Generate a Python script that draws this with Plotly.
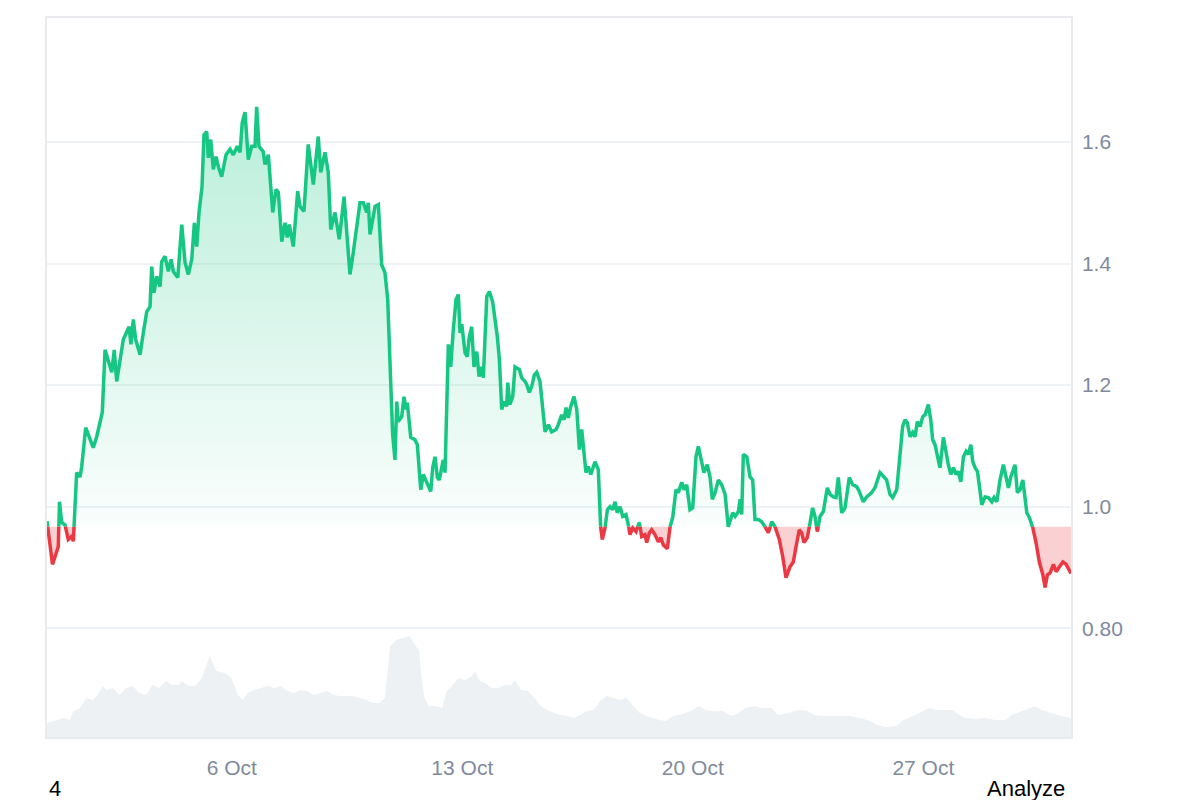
import numpy as np
import pandas as pd
import plotly.graph_objects as go

# ---------------- data ----------------
START = "2024-09-30 09:20"   # first sample time
BASE = 0.967                 # reference (opening) price

# hours since START for each price sample
hours = [
    0, 4.0, 8.2, 9.1, 10.7, 13.1, 15.5, 18.0, 19.2, 21.6,
    24.1, 25.3, 28.2, 31.3, 33.7, 36.2, 38.6, 40.3, 42.3, 45.9,
    47.2, 49.0, 50.8, 55.6, 58.1, 59.8, 61.2, 62.9, 64.6, 67.8,
    70.2, 72.7, 75.1, 76.3, 78.0, 80.0, 82.4, 83.6, 86.0, 88.4,
    90.4, 92.1, 95.3, 98.2, 100.6, 103.0, 105.5, 107.4, 109.1, 110.8,
    113.0, 114.4, 116.4, 117.6, 119.3, 121.2, 123.2, 124.8, 127.3, 130.5,
    133.4, 135.8, 138.7, 140.7, 142.3, 144.3, 146.7, 149.2, 151.6, 152.8,
    154.5, 157.6, 158.9, 161.3, 164.5, 166.9, 168.6, 171.1, 173.5, 175.1,
    176.6, 179.5, 182.7, 184.4, 187.3, 190.4, 194.1, 197.7, 199.5, 202.6,
    205.0, 206.8, 209.9, 213.0, 216.5, 220.8, 223.2, 228.1, 230.5, 233.0,
    234.2, 235.4, 239.1, 241.5, 243.9, 246.3, 248.3, 249.3, 250.3, 251.9,
    253.6, 254.9, 256.0, 258.5, 260.2, 261.6, 262.6, 265.1, 268.2, 269.9,
    272.4, 274.3, 276.7, 279.7, 281.1, 282.8, 284.5, 285.9, 288.8, 290.1,
    292.5, 294.2, 296.1, 298.1, 299.8, 301.0, 302.3, 304.7, 306.3, 307.8,
    309.5, 311.2, 313.2, 314.9, 316.8, 318.0, 320.5, 322.4, 324.8, 328.2,
    329.7, 331.4, 333.1, 335.0, 335.8, 337.4, 339.4, 341.1, 344.2, 346.0,
    348.4, 349.6, 351.5, 353.3, 355.2, 356.9, 359.3, 361.3, 363.0, 365.4,
    367.8, 371.0, 372.6, 375.1, 376.8, 378.3, 379.9, 381.7, 384.1, 386.1,
    388.0, 389.7, 390.9, 392.8, 394.5, 396.3, 399.4, 401.8, 403.5, 404.7,
    406.7, 408.4, 410.3, 412.3, 414.0, 415.6, 417.6, 419.6, 422.0, 423.7,
    424.9, 426.9, 429.3, 431.7, 433.4, 435.8, 437.1, 439.0, 440.7, 443.1,
    445.5, 447.3, 449.2, 452.1, 454.1, 456.0, 458.4, 460.1, 462.6, 464.3,
    466.2, 468.6, 470.6, 473.0, 474.7, 477.2, 478.8, 481.2, 483.2, 484.9,
    486.9, 489.3, 491.7, 494.2, 496.5, 499.8, 501.5, 503.9, 505.1, 506.3,
    507.5, 510.0, 512.4, 514.3, 516.0, 518.4, 520.9, 523.3, 525.7, 528.2,
    530.6, 533.7, 536.2, 538.6, 541.5, 543.9, 545.9, 548.3, 550.0, 551.7,
    554.1, 556.6, 558.0, 559.7, 561.4, 563.4, 565.8, 568.7, 570.7, 573.1,
    575.0, 576.7, 579.2, 581.6, 584.7, 587.2, 590.1, 592.0, 594.9, 597.4,
    601.0, 603.4, 607.1, 609.5, 611.9, 614.4, 616.3, 619.3, 621.7, 623.6,
    625.3, 627.0, 629.0, 630.9, 632.6, 634.3, 636.3, 638.2, 639.9, 642.3,
    644.1, 645.5, 647.2, 648.9, 650.8, 653.3, 655.2, 656.9, 658.7, 660.6,
    662.5, 664.2, 666.0, 667.9, 669.8, 671.5, 673.3, 674.7, 676.4, 678.1,
    679.6, 681.3, 683.7, 686.1, 688.6, 690.2, 692.2, 694.6, 697.0, 699.0,
    700.7, 702.4, 703.9, 705.5, 707.2, 709.2, 711.2, 712.6, 714.1, 716.0,
    718.5, 720.8, 723.3, 725.8, 727.4, 729.1, 731.1, 733.5, 735.5, 737.9,
    740.4, 742.8, 745.2, 746.3,
]

price = [
    0.976, 0.905, 0.934, 1.008, 0.974, 0.970, 0.946, 0.951, 0.943, 1.056,
    1.049, 1.066, 1.130, 1.110, 1.097, 1.115, 1.138, 1.155, 1.258, 1.230,
    1.221, 1.258, 1.206, 1.275, 1.286, 1.296, 1.267, 1.308, 1.275, 1.250,
    1.286, 1.321, 1.329, 1.395, 1.352, 1.379, 1.362, 1.403, 1.412, 1.387,
    1.407, 1.387, 1.377, 1.464, 1.402, 1.382, 1.407, 1.467, 1.428, 1.484,
    1.527, 1.612, 1.617, 1.574, 1.604, 1.555, 1.576, 1.560, 1.543, 1.579,
    1.588, 1.579, 1.593, 1.583, 1.632, 1.649, 1.571, 1.593, 1.593, 1.658,
    1.593, 1.584, 1.563, 1.579, 1.484, 1.522, 1.517, 1.436, 1.467, 1.443,
    1.464, 1.428, 1.519, 1.494, 1.486, 1.596, 1.530, 1.609, 1.550, 1.583,
    1.550, 1.456, 1.484, 1.440, 1.510, 1.382, 1.418, 1.500, 1.500, 1.484,
    1.500, 1.448, 1.494, 1.497, 1.398, 1.385, 1.341, 1.280, 1.198, 1.119,
    1.077, 1.173, 1.140, 1.148, 1.181, 1.160, 1.171, 1.114, 1.110, 1.102,
    1.028, 1.053, 1.040, 1.025, 1.064, 1.082, 1.048, 1.044, 1.077, 1.056,
    1.267, 1.230, 1.291, 1.341, 1.349, 1.286, 1.300, 1.253, 1.247, 1.280,
    1.296, 1.230, 1.255, 1.214, 1.230, 1.212, 1.346, 1.354, 1.337, 1.280,
    1.242, 1.160, 1.173, 1.165, 1.204, 1.168, 1.181, 1.230, 1.226, 1.212,
    1.206, 1.201, 1.188, 1.198, 1.217, 1.221, 1.206, 1.156, 1.123, 1.135,
    1.123, 1.127, 1.135, 1.151, 1.143, 1.163, 1.146, 1.165, 1.181, 1.160,
    1.094, 1.127, 1.094, 1.056, 1.066, 1.053, 1.074, 1.061, 0.967, 0.946,
    0.965, 0.995, 1.000, 0.995, 1.008, 0.990, 1.000, 0.984, 0.987, 0.970,
    0.954, 0.965, 0.959, 0.974, 0.951, 0.954, 0.941, 0.957, 0.962, 0.954,
    0.942, 0.949, 0.937, 0.931, 0.967, 0.982, 1.028, 1.023, 1.040, 1.028,
    1.036, 0.995, 0.998, 1.082, 1.099, 1.072, 1.056, 1.069, 1.049, 1.012,
    1.023, 1.044, 1.036, 1.020, 0.967, 0.990, 0.984, 0.992, 1.012, 0.987,
    1.086, 1.082, 1.049, 1.044, 0.979, 0.979, 0.975, 0.967, 0.957, 0.975,
    0.967, 0.946, 0.918, 0.883, 0.901, 0.909, 0.934, 0.962, 0.957, 0.941,
    0.949, 0.979, 0.998, 0.984, 0.959, 0.984, 0.992, 1.031, 1.020, 1.016,
    1.015, 1.048, 0.990, 0.998, 1.048, 1.036, 1.033, 1.025, 1.008, 1.016,
    1.023, 1.031, 1.056, 1.049, 1.044, 1.020, 1.015, 1.028, 1.090, 1.132,
    1.143, 1.138, 1.115, 1.122, 1.115, 1.140, 1.132, 1.148, 1.151, 1.168,
    1.143, 1.110, 1.102, 1.086, 1.064, 1.114, 1.089, 1.069, 1.053, 1.064,
    1.053, 1.058, 1.041, 1.082, 1.091, 1.086, 1.102, 1.074, 1.064, 1.058,
    1.033, 1.003, 1.016, 1.015, 1.008, 1.015, 1.008, 1.044, 1.069, 1.048,
    1.031, 1.049, 1.061, 1.069, 1.023, 1.028, 1.044, 1.012, 0.990, 0.982,
    0.965, 0.941, 0.908, 0.888, 0.867, 0.888, 0.891, 0.905, 0.893, 0.901,
    0.909, 0.905, 0.893, 0.890,
]

# volume (arbitrary units) and its sample times
vol_hours = [
    0, 7.2, 12, 16.8, 19.2, 24, 28.8, 33.6, 36, 40.8,
    43.2, 48, 52.8, 57.6, 62.4, 67.2, 72, 76.8, 81.6, 86.4,
    91.2, 96, 98.4, 103.2, 108, 112.8, 115.2, 118.6, 123.4, 129.6,
    134.4, 139.2, 142.6, 146.4, 151.2, 156, 160.8, 165.6, 170.4, 175.2,
    180, 184.8, 189.6, 194.4, 199.2, 204, 208.8, 213.6, 218.4, 223.2,
    228, 232.8, 237.6, 242.4, 246.2, 248.2, 250.1, 254.4, 259.2, 264,
    267.4, 271.2, 272.6, 275, 278.4, 283.2, 288, 291.4, 295.2, 300,
    304.8, 309.6, 312, 315.4, 319.2, 324, 328.8, 333.6, 338.4, 340.8,
    345.6, 350.4, 355.2, 360, 364.8, 369.6, 374.4, 379.2, 384, 388.8,
    393.6, 398.4, 403.2, 408, 412.8, 417.6, 422.4, 427.2, 432, 436.8,
    441.6, 446.4, 451.2, 456, 460.8, 465.6, 470.4, 475.2, 480, 484.8,
    492, 499.2, 504, 508.8, 516, 520.8, 528, 532.8, 540, 547.2,
    554.4, 559.2, 566.4, 573.6, 580.8, 585.6, 592.8, 600, 604.8, 612,
    619.2, 624, 631.2, 638.4, 643.2, 648, 652.8, 660, 664.8, 669.6,
    676.8, 684, 691.2, 698.4, 703.2, 710.4, 715.2, 720, 724.8, 732,
    739.2, 746.4,
]
volume = [
    14, 17, 19, 17, 26, 29, 39, 37, 41, 51,
    47, 49, 42, 49, 51, 44, 42, 52, 49, 56,
    52, 52, 56, 51, 51, 59, 69, 81, 66, 64,
    59, 42, 37, 44, 47, 49, 51, 49, 51, 46,
    44, 47, 46, 42, 44, 46, 42, 41, 41, 41,
    39, 37, 34, 34, 39, 67, 91, 97, 99, 101,
    94, 86, 64, 39, 31, 31, 29, 46, 51, 59,
    57, 61, 66, 56, 54, 49, 49, 52, 52, 57,
    47, 46, 39, 31, 27, 24, 22, 21, 19, 22,
    26, 27, 36, 41, 39, 37, 39, 31, 24, 21,
    19, 17, 16, 21, 22, 24, 27, 31, 27, 26,
    26, 21, 24, 29, 31, 29, 29, 22, 24, 27,
    26, 22, 21, 21, 21, 21, 19, 16, 12, 10,
    11, 17, 21, 26, 29, 27, 27, 27, 22, 19,
    18, 19, 17, 17, 22, 26, 29, 31, 27, 24,
    21, 19,
]

tick_dates = ["2024-10-06", "2024-10-13", "2024-10-20", "2024-10-27"]
tick_date_labels = ["6 Oct", "13 Oct", "20 Oct", "27 Oct"]
y_ticks = [0.8, 1.0, 1.2, 1.4, 1.6]
y_tick_labels = ["0.80", "1.0", "1.2", "1.4", "1.6"]

assert len(hours) == len(price)
assert len(vol_hours) == len(volume)

# ---------------- styling ----------------
GREEN = "#16c784"
RED = "#ea3943"
GRAY_TXT = "#808a9d"
FONT = "Liberation Sans, Arial, sans-serif"

# split the series at baseline crossings so colors change exactly at BASE
t = np.array(hours, dtype=float)
p = np.array(price, dtype=float)
xs, ys = [t[0]], [p[0]]
for i in range(1, len(t)):
    a, b = p[i - 1], p[i]
    if (a - BASE) * (b - BASE) < 0:
        f = (BASE - a) / (b - a)
        xs.append(t[i - 1] + f * (t[i] - t[i - 1]))
        ys.append(BASE)
    xs.append(t[i])
    ys.append(p[i])
xs = np.array(xs)
ys = np.array(ys)

t0 = pd.Timestamp(START)
dates = t0 + pd.to_timedelta(xs, unit="h")
vdates = t0 + pd.to_timedelta(np.array(vol_hours, dtype=float), unit="h")

green_line = np.where(ys >= BASE, ys, np.nan)
red_line = np.where(ys <= BASE, ys, np.nan)
base_arr = np.full(len(xs), BASE)

fig = go.Figure()

# volume area on a hidden secondary axis
fig.add_trace(go.Scatter(
    x=vdates, y=volume, yaxis="y2", mode="lines",
    line=dict(width=0, color="#eef1f4"), fill="tozeroy",
    fillcolor="#eef1f4", hoverinfo="skip", showlegend=False,
))

# green fill (above base)
fig.add_trace(go.Scatter(x=dates, y=base_arr, mode="lines",
                         line=dict(width=0), hoverinfo="skip", showlegend=False))
fig.add_trace(go.Scatter(
    x=dates, y=np.maximum(ys, BASE), mode="lines", line=dict(width=0),
    fill="tonexty",
    fillgradient=dict(type="vertical",
                      colorscale=[[0, "rgba(22,199,132,0.02)"],
                                  [1, "rgba(22,199,132,0.30)"]],
                      start=BASE, stop=float(p.max())),
    hoverinfo="skip", showlegend=False,
))

# red fill (below base)
fig.add_trace(go.Scatter(x=dates, y=base_arr, mode="lines",
                         line=dict(width=0), hoverinfo="skip", showlegend=False))
fig.add_trace(go.Scatter(
    x=dates, y=np.minimum(ys, BASE), mode="lines", line=dict(width=0),
    fill="tonexty", fillcolor="rgba(234,57,67,0.24)",
    hoverinfo="skip", showlegend=False,
))

# price lines
fig.add_trace(go.Scatter(x=dates, y=green_line, mode="lines",
                         line=dict(color=GREEN, width=3.5), connectgaps=False,
                         showlegend=False))
fig.add_trace(go.Scatter(x=dates, y=red_line, mode="lines",
                         line=dict(color=RED, width=3.5), connectgaps=False,
                         showlegend=False))

fig.update_layout(
    width=1200, height=800,
    margin=dict(l=47, r=129, t=18, b=63),
    paper_bgcolor="white", plot_bgcolor="white",
    font=dict(family=FONT, size=21, color=GRAY_TXT),
    showlegend=False,
    xaxis=dict(
        type="date", range=[dates[0], dates[-1]],
        tickvals=tick_dates, ticktext=tick_date_labels,
        tickfont=dict(size=21, color=GRAY_TXT, family=FONT),
        showgrid=False, zeroline=False,
        showline=True, mirror=True, linecolor="#e9ebee", linewidth=1.5,
        ticks="", ticklabelstandoff=11,
    ),
    yaxis=dict(
        side="right", range=[0.621, 1.804],
        tickvals=y_ticks, ticktext=y_tick_labels,
        tickfont=dict(size=21, color=GRAY_TXT, family=FONT),
        showgrid=True, gridcolor="#eff2f5", gridwidth=1.5,
        zeroline=False,
        showline=True, mirror=True, linecolor="#e9ebee", linewidth=1.5,
        ticks="", ticklabelstandoff=5,
    ),
    yaxis2=dict(overlaying="y", range=[0, 719], visible=False),
    annotations=[
        dict(text="4", xref="paper", yref="paper", x=0.0, y=-0.0723,
             xanchor="left", yanchor="middle", showarrow=False,
             font=dict(size=22, color="#000000", family=FONT)),
        dict(text="Analyze", xref="paper", yref="paper", x=0.9965, y=-0.0723,
             xanchor="right", yanchor="middle", showarrow=False,
             font=dict(size=22, color="#000000", family=FONT)),
    ],
)

fig.write_html("out.html")
